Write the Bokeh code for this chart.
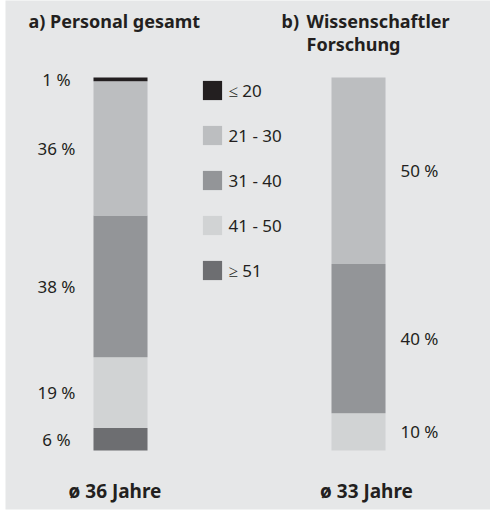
from bokeh.plotting import figure
from bokeh.models import ColumnDataSource, Legend, LegendItem, Label
from bokeh.core.properties import value
from bokeh.embed import file_html
from bokeh.resources import INLINE

# ---- data ----
groups = ["Personal gesamt", "Wissenschaftler Forschung"]
age_classes = ["≤ 20", "21 - 30", "31 - 40", "41 - 50", "≥ 51"]
personal_gesamt = [1, 36, 38, 19, 6]
wissenschaftler = [0, 50, 40, 10, 0]
avg_age = [36, 33]
titles = ["a) Personal gesamt", "b)", "Wissenschaftler", "Forschung"]

# ---- style ----
BG = "#e6e7e8"
TXT = "#231f20"
colors = ["#231f20", "#bcbec0", "#939598", "#d1d3d4", "#6d6e71"]
FONT = "Noto Sans"

xpos = [0, 1]
keys = ["c%d" % i for i in range(len(age_classes))]
data = {"x": xpos}
for i, k in enumerate(keys):
    data[k] = [personal_gesamt[i], wissenschaftler[i]]
src = ColumnDataSource(data)

p = figure(width=490, height=511, output_backend="svg", toolbar_location=None,
           x_range=(-0.4832, 1.5546), y_range=(-15.82, 120.64),
           x_axis_location=None, y_axis_location=None,
           min_border_left=5, min_border_right=0, min_border_top=0, min_border_bottom=2)
p.background_fill_color = BG
p.border_fill_color = "white"
p.outline_line_color = None
p.grid.visible = False

# stack bottom-up: oldest class first
order = list(range(len(age_classes)))[::-1]
rends = p.vbar_stack([keys[i] for i in order], x="x", width=0.227,
                     color=[colors[i] for i in order], line_color=None, source=src)
rend_by_class = {order[j]: rends[j] for j in range(len(order))}


def label_data(vals):
    ys, ts = [], []
    cum = 0
    for i in order:
        v = vals[i]
        if v > 0:
            ys.append(cum + v / 2)
            ts.append("%d %%" % v)
        cum += v
    return ys, ts


ya, ta = label_data(personal_gesamt)
p.text(x=[xpos[0]] * len(ya), y=ya, text=ta, x_offset=-64, text_align="center",
       text_baseline="middle", text_font=value(FONT), text_font_size="17px", text_color=TXT)
yb, tb = label_data(wissenschaftler)
p.text(x=[xpos[1]] * len(yb), y=yb, text=tb, x_offset=42, text_align="left",
       text_baseline="middle", text_font=value(FONT), text_font_size="17px", text_color=TXT)

legend = Legend(items=[LegendItem(label=age_classes[i], renderers=[rend_by_class[i]])
                       for i in range(len(age_classes))],
                location=(194.6, 227), glyph_width=24, glyph_height=24, label_height=24,
                spacing=21, padding=0, margin=0, border_line_color=None,
                background_fill_alpha=0, label_standoff=5,
                label_text_font=FONT, label_text_font_size="17px", label_text_color=TXT)
p.add_layout(legend)

for txt, x, y in [(titles[0], 23, 489), (titles[1], 276, 489), (titles[2], 301, 489),
                  (titles[3], 301, 466)]:
    p.add_layout(Label(x=x, y=y, x_units="screen", y_units="screen", text=txt,
                       text_font=FONT, text_font_style="bold", text_font_size="18px",
                       text_color=TXT, text_baseline="middle"))

for xp, a, off in zip(xpos, avg_age, [-5.5, 8]):
    p.add_layout(Label(x=xp, y=19, x_units="data", y_units="screen", x_offset=off,
                       text="ø %d Jahre" % a, text_font=FONT, text_font_style="bold",
                       text_font_size="19px", text_color=TXT, text_align="center",
                       text_baseline="middle"))

open("out.html", "w").write(file_html(p, INLINE))
